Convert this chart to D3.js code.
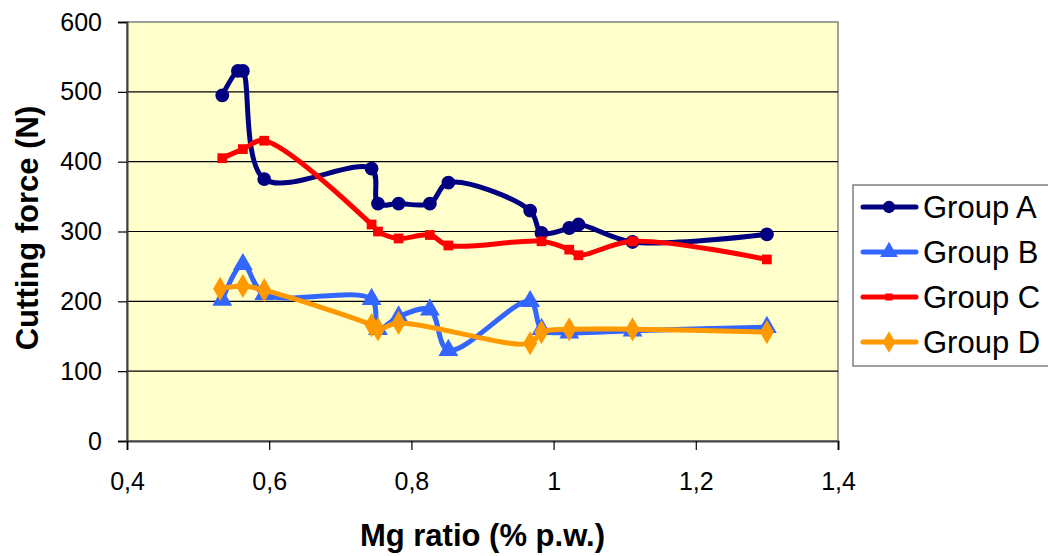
<!DOCTYPE html>
<html>
<head>
<meta charset="utf-8">
<script src="https://cdn.jsdelivr.net/npm/d3@7"></script>
<style>
  body { margin: 0; background: #fff; }
  text { font-family: "Liberation Sans", Arial, sans-serif; }
</style>
</head>
<body>
<div id="chart"></div>
<script>
var width = 1048, height = 556;
var margin = ({ top: 22, right: 210, bottom: 115, left: 127 });

// data
var xA = [0.534, 0.556, 0.563, 0.593, 0.744, 0.753, 0.782, 0.826, 0.852, 0.967, 0.983, 1.022, 1.035, 1.111, 1.30];
var yA = [495, 530, 530, 375, 390, 340, 340, 340, 370, 330, 298, 305, 310, 285, 296];
var xB = [0.534, 0.563, 0.593, 0.744, 0.753, 0.782, 0.826, 0.852, 0.967, 0.983, 1.022, 1.111, 1.30];
var yB = [202, 253, 210, 203, 160, 178, 188, 130, 200, 160, 155, 158, 163];
var xC = [0.534, 0.563, 0.593, 0.744, 0.753, 0.782, 0.826, 0.852, 0.983, 1.022, 1.035, 1.111, 1.30];
var yC = [405, 418, 430, 310, 300, 290, 295, 280, 286, 274, 266, 286, 260];
var xD = [0.531, 0.563, 0.593, 0.744, 0.753, 0.782, 0.967, 0.983, 1.022, 1.111, 1.30];
var yD = [218, 222, 216, 166, 160, 169, 140, 156, 160, 160, 156];

var groups = ["Group A", "Group B", "Group C", "Group D"];
var colors = ["#000080", "#3366FF", "#FF0000", "#FF9900"];
var xTicks = [0.4, 0.6, 0.8, 1, 1.2, 1.4];
var yTicks = [0, 100, 200, 300, 400, 500, 600];

var series = [
  { name: groups[0], color: colors[0], shape: "circle", pts: xA.map((x, i) => [x, yA[i]]) },
  { name: groups[1], color: colors[1], shape: "triangle", pts: xB.map((x, i) => [x, yB[i]]) },
  { name: groups[2], color: colors[2], shape: "square", pts: xC.map((x, i) => [x, yC[i]]) },
  { name: groups[3], color: colors[3], shape: "diamond", pts: xD.map((x, i) => [x, yD[i]]) }
];

var plotW = 838 - margin.left, plotH = 441 - margin.top;

var x = d3.scaleLinear().domain([0.4, 1.4]).range([0, plotW]);
var y = d3.scaleLinear().domain([0, 600]).range([plotH, 0]);

var svg = d3.select("#chart").append("svg")
  .attr("width", width)
  .attr("height", height);

var g = svg.append("g")
  .attr("transform", `translate(${margin.left},${margin.top})`);

// plot background
g.append("rect")
  .attr("width", plotW).attr("height", plotH)
  .attr("fill", "#FFFFCC")
  .attr("stroke", "#808080").attr("stroke-width", 1.5);

// gridlines
g.selectAll(".grid")
  .data(yTicks.filter(d => d > 0 && d < 600))
  .enter().append("line")
  .attr("x1", 0).attr("x2", plotW)
  .attr("y1", d => y(d)).attr("y2", d => y(d))
  .attr("stroke", "#000").attr("stroke-width", 1.2);

var fmt = d => String(d).replace(".", ",");

// y axis
g.append("g")
  .call(d3.axisLeft(y).tickValues(yTicks).tickSize(9).tickPadding(16).tickFormat(d => d))
  .call(a => a.select(".domain").attr("stroke", "#404040").attr("stroke-width", 2))
  .call(a => a.selectAll("line").attr("stroke", "#000").attr("stroke-width", 1.2))
  .call(a => a.selectAll("text").attr("font-size", 25).attr("fill", "#000")
    .attr("font-family", "Liberation Sans, Arial, sans-serif"));

// x axis
g.append("g")
  .attr("transform", `translate(0,${plotH})`)
  .call(d3.axisBottom(x).tickValues(xTicks).tickSize(9).tickPadding(22).tickFormat(fmt))
  .call(a => a.select(".domain").attr("stroke", "#404040").attr("stroke-width", 2))
  .call(a => a.selectAll("line").attr("stroke", "#000").attr("stroke-width", 1.2))
  .call(a => a.selectAll("text").attr("font-size", 25).attr("fill", "#000")
    .attr("font-family", "Liberation Sans, Arial, sans-serif"));

// axis titles
svg.append("text")
  .attr("x", margin.left + plotW / 2).attr("y", 546)
  .attr("text-anchor", "middle")
  .attr("font-size", 31).attr("font-weight", "bold")
  .text("Mg ratio (% p.w.)");

svg.append("text")
  .attr("transform", "translate(38,228) rotate(-90)")
  .attr("text-anchor", "middle")
  .attr("font-size", 31).attr("font-weight", "bold")
  .text("Cutting force (N)");

var symbols = { circle: d3.symbolCircle, triangle: d3.symbolTriangle, square: d3.symbolSquare, diamond: d3.symbolDiamond };
var sizes = { circle: 150, triangle: 170, square: 95, diamond: 170 };

var line = d3.line()
  .x(d => x(d[0])).y(d => y(d[1]))
  .curve(d3.curveCatmullRom.alpha(0.5));

series.forEach(s => {
  g.append("path")
    .datum(s.pts)
    .attr("d", line)
    .attr("fill", "none")
    .attr("stroke", s.color)
    .attr("stroke-width", 5)
    .attr("stroke-linejoin", "round")
    .attr("stroke-linecap", "round");

  g.selectAll(null)
    .data(s.pts)
    .enter().append("path")
    .attr("transform", d => `translate(${x(d[0])},${y(d[1])})`)
    .attr("d", d3.symbol().type(symbols[s.shape]).size(sizes[s.shape]))
    .attr("fill", s.color);
});

// legend
var leg = svg.append("g").attr("transform", "translate(853,185)");
leg.append("rect")
  .attr("width", 230).attr("height", 181)
  .attr("fill", "#fff").attr("stroke", "#808080").attr("stroke-width", 1.5);

series.forEach((s, i) => {
  var ly = 22 + i * 45;
  var it = leg.append("g").attr("transform", `translate(0,${ly})`);
  it.append("line")
    .attr("x1", 10).attr("x2", 63)
    .attr("stroke", s.color).attr("stroke-width", 5).attr("stroke-linecap", "round");
  it.append("path")
    .attr("transform", "translate(36,0)")
    .attr("d", d3.symbol().type(symbols[s.shape]).size(s.shape === "square" ? 50 : sizes[s.shape] * 0.8))
    .attr("fill", s.color);
  it.append("text")
    .attr("x", 70).attr("y", 11)
    .attr("font-size", 31)
    .text(s.name);
});
</script>
</body>
</html>
